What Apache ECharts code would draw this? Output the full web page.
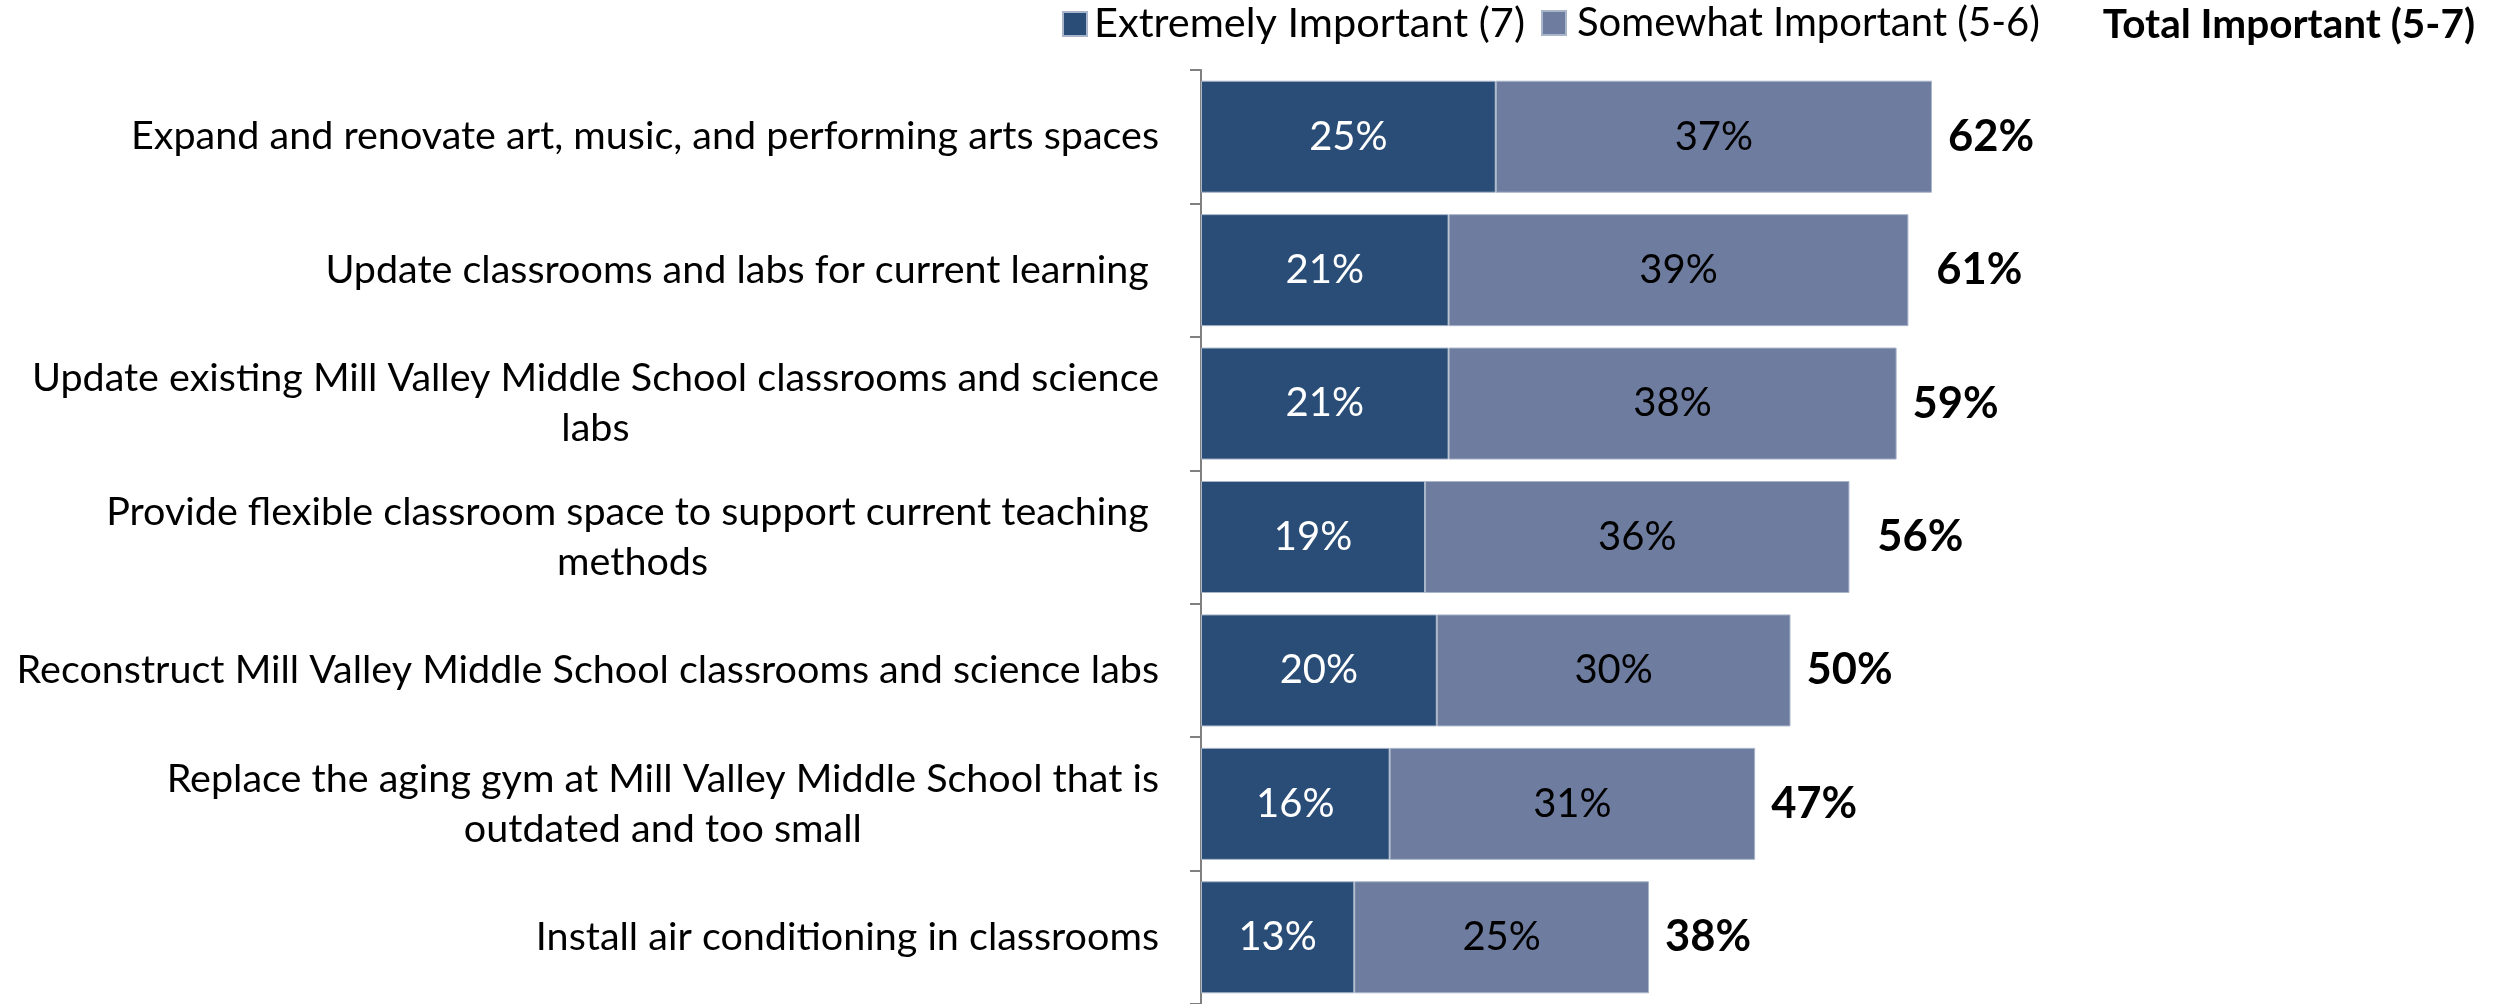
<!DOCTYPE html>
<html>
<head>
<meta charset="utf-8">
<script src="https://cdn.jsdelivr.net/npm/echarts@6/dist/echarts.min.js"></script>
<style>
  html, body { margin: 0; padding: 0; background: #fff; }
  #main { width: 2498px; height: 1004px; }
</style>
</head>
<body>
<div id="main"></div>
<script>
var categories = [
  "Expand and renovate art, music, and performing arts spaces",
  "Update classrooms and labs for current learning ",
  "Update existing Mill Valley Middle School classrooms and science\nlabs",
  "Provide flexible classroom space to support current teaching \nmethods",
  "Reconstruct Mill Valley Middle School classrooms and science labs",
  "Replace the aging gym at Mill Valley Middle School that is\noutdated and too small",
  "Install air conditioning in classrooms"
];
var extremely = [25, 21, 21, 19, 20, 16, 13];
var somewhat = [37, 39, 38, 36, 30, 31, 25];
var totals = [62, 61, 59, 56, 50, 47, 38];

var font = "Lato";

var chartMain = echarts.init(document.getElementById("main"));
var option = {
  animation: false,
  textStyle: { fontFamily: font },
  title: {
    text: "Total Important (5-7)",
    right: 23,
    top: 4,
    padding: 0,
    textStyle: { fontFamily: font, fontSize: 40.5, fontWeight: "bold", color: "#000" }
  },
  // two legends so each item can sit where it is in the picture
  legend: [
    {
      data: ["Extremely Important (7)"],
      left: 1062,
      top: 3,
      padding: 0,
      itemWidth: 24,
      itemHeight: 24,
      icon: "rect",
      textStyle: { fontFamily: font, fontSize: 41.5, color: "#000", padding: [0, 0, 0, 2] }
    },
    {
      data: ["Somewhat Important (5-6)"],
      left: 1541,
      top: 3,
      padding: 0,
      itemWidth: 24,
      itemHeight: 24,
      icon: "rect",
      textStyle: { fontFamily: font, fontSize: 40, color: "#000", padding: [0, 0, 0, 6] }
    }
  ],
  grid: {
    left: 1201,
    right: 118,
    top: 70,
    bottom: -5
  },
  xAxis: {
    type: "value",
    min: 0,
    max: 100,
    show: false
  },
  yAxis: {
    type: "category",
    inverse: true,
    data: categories,
    axisLine: { show: true, lineStyle: { color: "#808080", width: 2 } },
    axisTick: { show: true, length: 11, lineStyle: { color: "#808080", width: 2 } },
    axisLabel: {
      margin: 42,
      formatter: function (v) {
        return v.split("\n").map(function (l) { return "{a|" + l + "}"; }).join("\n");
      },
      rich: {
        a: { align: "center", fontFamily: font, fontSize: 39.5, lineHeight: 50, color: "#000" }
      }
    }
  },
  series: [
    {
      name: "Extremely Important (7)",
      type: "bar",
      stack: "imp",
      barWidth: 112,
      data: extremely,
      itemStyle: { color: "#294D76", borderColor: "#A9B5C9", borderWidth: 1 },
      label: {
        show: true,
        position: "inside",
        formatter: "{c}%",
        fontFamily: font,
        fontSize: 40,
        color: "#fff"
      }
    },
    {
      name: "Somewhat Important (5-6)",
      type: "bar",
      stack: "imp",
      barWidth: 112,
      data: somewhat,
      itemStyle: { color: "#6E7C9F", borderColor: "#A9B5C9", borderWidth: 1 },
      label: {
        show: true,
        position: "inside",
        formatter: "{c}%",
        fontFamily: font,
        fontSize: 40,
        color: "#000"
      }
    },
    {
      name: "Total Important (5-7)",
      type: "bar",
      barWidth: 112,
      barGap: "-100%",
      z: 1,
      data: totals,
      itemStyle: { color: "rgba(0,0,0,0)" },
      label: {
        show: true,
        position: "right",
        distance: 16,
        formatter: "{c}%",
        fontFamily: font,
        fontSize: 43.5,
        fontWeight: "bold",
        color: "#000"
      }
    }
  ]
};
chartMain.setOption(option);
window.onresize = chartMain.resize;
</script>
</body>
</html>
